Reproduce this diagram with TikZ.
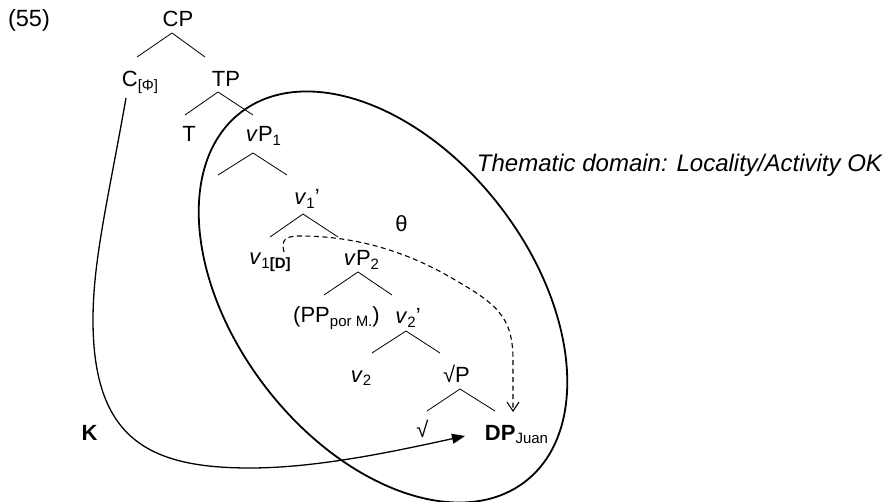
\documentclass[tikz,border=0pt]{standalone}
\usepackage{fontspec}
\setmainfont{Liberation Sans}
\usetikzlibrary{arrows.meta}
\newcommand\mysub[1]{\raisebox{-3.5pt}{\fontsize{15}{15}\selectfont #1}}
\begin{document}
\begin{tikzpicture}[x=1pt,y=-1pt,
  lbl/.style={anchor=base, inner sep=0pt, font=\fontsize{22}{26}\selectfont},
  wedge/.style={line width=0.8pt},
  domainline/.style={line width=1.8pt},
  karrow/.style={line width=1.3pt, -{Triangle[length=13pt,width=10pt]}},
  thetaarrow/.style={line width=1.1pt, dash pattern=on 5pt off 3.5pt, -{Straight Barb[length=9pt,width=12pt]}}]
\useasboundingbox (0,0) rectangle (883,502);
% labels
\node[lbl, font=\fontsize{23.5}{27}\selectfont] (ex) at (29,27) {(55)};
\node[lbl] (cp) at (178,27) {CP};
\node[lbl] (c) at (140,87) {C\mysub{[Φ]}};
\node[lbl] (tp) at (226,87) {TP};
\node[lbl] (t) at (189,142) {T};
\node[lbl] (vp1) at (263.5,142) {\textit{v}P\mysub{1}};
\node[lbl] (v1bar) at (307,205) {\textit{v}\mysub{1}’};
\node[lbl] (v1d) at (270,265) {\textit{v}\mysub{1\textbf{[D]}}};
\node[lbl] (vp2) at (361.5,266) {\textit{v}P\mysub{2}};
\node[lbl] (pp) at (336.5,323) {(PP\mysub{por M.})};
\node[lbl] (v2bar) at (408,324) {\textit{v}\mysub{2}’};
\node[lbl] (v2) at (361,382) {\textit{v}\mysub{2}};
\node[lbl] (rootp) at (456.5,382) {√P};
\node[lbl] (root) at (422.5,437) {√};
\node[lbl] (dp) at (516.5,440) {\textbf{DP}\mysub{Juan}};
\node[lbl] (k) at (89.5,440) {\textbf{K}};
\node[lbl] (th) at (401.5,232) {θ};
\node[lbl, font=\fontsize{24}{28}\selectfont\itshape] (dom) at (679.5,171.5) {Thematic domain: Locality/Activity OK};
% wedge points
\coordinate (cpA) at (172,33);  \coordinate (cpL) at (137,57);  \coordinate (cpR) at (205,57);
\coordinate (tpA) at (218,92);  \coordinate (tpL) at (185,115); \coordinate (tpR) at (253,115);
\coordinate (vpA) at (253,153); \coordinate (vpL) at (218,175); \coordinate (vpR) at (287,175);
\coordinate (vbA) at (303,214); \coordinate (vbL) at (270,237); \coordinate (vbR) at (338,237);
\coordinate (vqA) at (358,272); \coordinate (vqL) at (324,295); \coordinate (vqR) at (392,295);
\coordinate (wbA) at (406,331); \coordinate (wbL) at (372,353); \coordinate (wbR) at (440,353);
\coordinate (rpA) at (460,389); \coordinate (rpL) at (427,411); \coordinate (rpR) at (495,411);
\draw[wedge] (cpL) -- (cpA) -- (cpR);
\draw[wedge] (tpL) -- (tpA) -- (tpR);
\draw[wedge] (vpL) -- (vpA) -- (vpR);
\draw[wedge] (vbL) -- (vbA) -- (vbR);
\draw[wedge] (vqL) -- (vqA) -- (vqR);
\draw[wedge] (wbL) -- (wbA) -- (wbR);
\draw[wedge] (rpL) -- (rpA) -- (rpR);
% thematic domain
\coordinate (ec) at (383,297);
\draw[domainline, rotate around={-52.4:(ec)}] (ec) ellipse [x radius=233pt, y radius=148pt];
% K arrow
\coordinate (kstart) at (126,98);
\coordinate (kend) at (465,436);
\draw[karrow] (kstart) .. controls (108,200) and (93,260) .. (93,320)
  .. controls (93,440) and (150,468) .. (250,468)
  .. controls (320,468) and (400,450) .. (kend);
% theta arrow
\coordinate (dstart) at (284,252);
\coordinate (dend) at (513,412);
\draw[thetaarrow] (dstart) .. controls (281,240) and (285,236) .. (300,236)
  .. controls (360,236) and (410,254) .. (450,277)
  .. controls (495,303) and (513,315) .. (513,360) -- (dend);
\end{tikzpicture}
\end{document}
